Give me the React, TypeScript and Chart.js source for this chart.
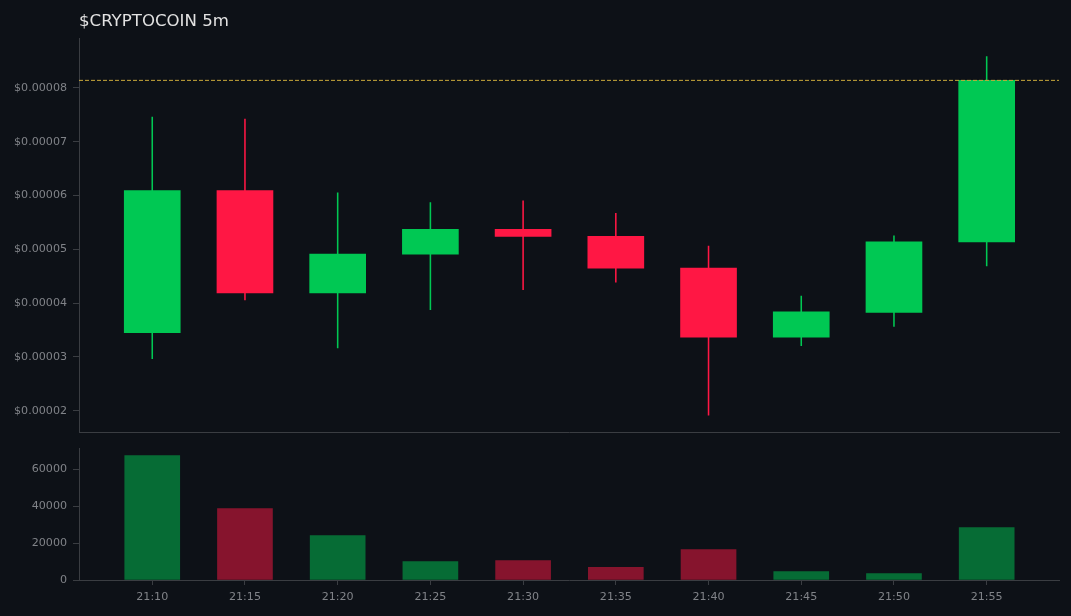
import React, { useEffect, useRef } from 'react';
import { Chart, registerables } from 'chart.js';

Chart.register(...registerables);

const times = ['21:10', '21:15', '21:20', '21:25', '21:30', '21:35', '21:40', '21:45', '21:50', '21:55'];
const opens = [3.45e-5, 6.09e-5, 4.19e-5, 4.91e-5, 5.37e-5, 5.24e-5, 4.65e-5, 3.37e-5, 3.83e-5, 5.14e-5];
const closes = [6.09e-5, 4.19e-5, 4.91e-5, 5.37e-5, 5.24e-5, 4.65e-5, 3.37e-5, 3.84e-5, 5.14e-5, 8.14e-5];
const highs = [7.46e-5, 7.42e-5, 6.05e-5, 5.87e-5, 5.9e-5, 5.67e-5, 5.06e-5, 4.13e-5, 5.25e-5, 8.58e-5];
const lows = [2.97e-5, 4.06e-5, 3.17e-5, 3.88e-5, 4.25e-5, 4.39e-5, 1.92e-5, 3.21e-5, 3.57e-5, 4.69e-5];
const volumes = [67300, 38600, 24000, 10000, 10500, 6800, 16500, 4600, 3500, 28400];
const priceTicksStep = 1e-5;
const volumeTicks = [0, 20000, 40000, 60000];
const lastPrice = 8.14e-5;

const BG = '#0d1117';
const GREEN = '#00c853';
const RED = '#ff1744';
const GREEN_DIM = 'rgba(0, 200, 83, 0.5)';
const RED_DIM = 'rgba(255, 23, 68, 0.5)';
const SPINE = '#3a3d42';
const TICK_TEXT = '#808388';
const FONT = '"DejaVu Sans"';
const X_MIN = -0.79;
const X_MAX = 9.78;

const isUp = (i: number) => closes[i] >= opens[i];
const candleColors = times.map((_, i) => (isUp(i) ? GREEN : RED));
const volumeColors = times.map((_, i) => (isUp(i) ? GREEN_DIM : RED_DIM));

const App: React.FC = () => {
  const priceRef = useRef<HTMLCanvasElement>(null);
  const volumeRef = useRef<HTMLCanvasElement>(null);

  useEffect(() => {
    document.body.style.margin = '0';
    document.body.style.background = BG;
    if (!priceRef.current || !volumeRef.current) return;

    const priceChart = new Chart(priceRef.current, {
      type: 'bar',
      data: {
        datasets: [
          {
            type: 'line',
            data: [
              { x: X_MIN, y: lastPrice },
              { x: X_MAX, y: lastPrice },
            ],
            borderColor: '#c9a93a',
            borderWidth: 1,
            borderDash: [4, 2],
            pointRadius: 0,
            order: 0,
          },
          {
            data: times.map((_, i) => ({ x: i, y: [opens[i], closes[i]] })),
            backgroundColor: candleColors,
            barThickness: 56,
            order: 1,
          },
          {
            data: times.map((_, i) => ({ x: i, y: [lows[i], highs[i]] })),
            backgroundColor: candleColors,
            barThickness: 0.9,
            order: 2,
          },
        ] as any,
      },
      options: {
        responsive: false,
        animation: false,
        devicePixelRatio: 1,
        layout: { padding: { top: 0, right: 12, bottom: 0, left: 0 } },
        datasets: { bar: { grouped: false } },
        plugins: {
          legend: { display: false },
          tooltip: { enabled: false },
          title: {
            display: true,
            text: '$CRYPTOCOIN 5m',
            align: 'start',
            fullSize: false,
            color: '#e2e2e2',
            font: { family: FONT, size: 16.6, weight: 'normal' },
            padding: { top: 12, bottom: 7 },
          },
        },
        scales: {
          x: {
            type: 'linear',
            offset: false,
            min: X_MIN,
            max: X_MAX,
            afterFit: (s: any) => { s.height = 0; },
            ticks: { display: false },
            grid: { display: true, offset: false, drawOnChartArea: false, drawTicks: false },
            border: { color: SPINE },
          },
          y: {
            min: 1.6e-5,
            max: 8.91e-5,
            afterFit: (s: any) => { s.width = 79; },
            ticks: {
              stepSize: priceTicksStep,
              includeBounds: false,
              color: TICK_TEXT,
              padding: 6,
              font: { family: FONT, size: 11.1 },
              callback: (v: any) => '$' + Number(v).toFixed(5),
            },
            grid: { drawOnChartArea: false, tickLength: 6, tickColor: SPINE },
            border: { color: SPINE },
          },
        },
      },
    });

    const volumeChart = new Chart(volumeRef.current, {
      type: 'bar',
      data: {
        datasets: [
          {
            data: times.map((_, i) => ({ x: i, y: volumes[i] })),
            backgroundColor: volumeColors,
            barThickness: 55,
          },
        ] as any,
      },
      options: {
        responsive: false,
        animation: false,
        devicePixelRatio: 1,
        layout: { padding: { top: 4, right: 12, bottom: 0, left: 0 } },
        plugins: { legend: { display: false }, tooltip: { enabled: false } },
        scales: {
          x: {
            type: 'linear',
            offset: false,
            min: X_MIN,
            max: X_MAX,
            afterFit: (s: any) => { s.height = 36; },
            ticks: {
              stepSize: 1,
              includeBounds: false,
              maxRotation: 0,
              autoSkip: false,
              color: TICK_TEXT,
              padding: 5,
              font: { family: FONT, size: 11.1 },
              callback: (v: any) => times[v as number] ?? '',
            },
            grid: { offset: false, drawOnChartArea: false, tickLength: 5, tickColor: SPINE },
            border: { color: SPINE },
          },
          y: {
            min: 0,
            max: 71000,
            afterFit: (s: any) => { s.width = 79; },
            afterBuildTicks: (s: any) => { s.ticks = volumeTicks.map((value) => ({ value })); },
            ticks: {
              color: TICK_TEXT,
              padding: 6,
              font: { family: FONT, size: 11.1 },
              callback: (v: any) => String(v),
            },
            grid: { drawOnChartArea: false, tickLength: 6, tickColor: SPINE },
            border: { color: SPINE },
          },
        },
      },
    });

    return () => {
      priceChart.destroy();
      volumeChart.destroy();
    };
  }, []);

  return (
    <div style={{ position: 'relative', width: 1071, height: 616, background: BG, overflow: 'hidden' }}>
      <canvas ref={priceRef} width={1071} height={445} style={{ position: 'absolute', left: 0, top: 0 }} />
      <canvas ref={volumeRef} width={1071} height={180} style={{ position: 'absolute', left: 0, top: 436 }} />
    </div>
  );
};

export default App;
